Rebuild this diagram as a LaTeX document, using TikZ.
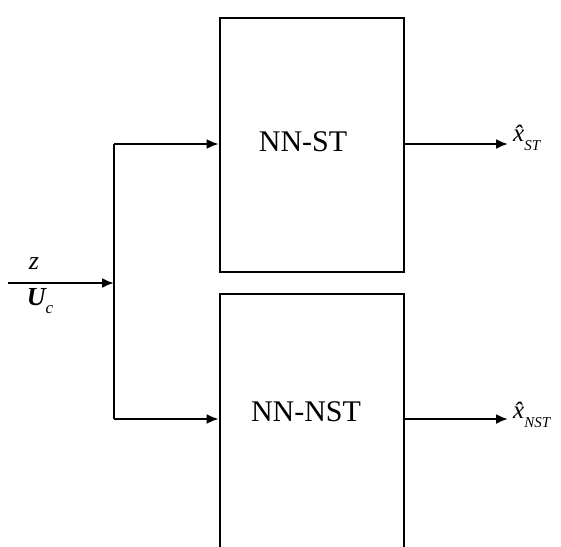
\documentclass[tikz,border=0pt]{standalone}
\usepackage{fontspec}
\setmainfont{Liberation Serif}
\usetikzlibrary{arrows.meta}
\newcommand{\subtxt}[2]{#1\raisebox{-0.35em}{\fontsize{15}{16}\selectfont\itshape #2}}
\begin{document}
\begin{tikzpicture}[x=1pt,y=-1pt,
  blk/.style={draw, line width=2.6pt, minimum width=184pt, inner sep=0pt},
  lbl/.style={font=\fontsize{30}{32}\selectfont, inner sep=0pt},
  wire/.style={line width=2.2pt},
  arr/.style={wire, -{Latex[length=12pt,width=10pt]}},
  inlbl/.style={font=\fontsize{26}{28}\selectfont\itshape, inner sep=0pt},
  outlbl/.style={font=\fontsize{25}{27}\selectfont\itshape, inner sep=0pt, anchor=west}]
\useasboundingbox (0,0) rectangle (561,546);
\clip (0,0) rectangle (561,546);
\node[blk, minimum height=254pt] (box1) at (312,145) {};
\node[blk, minimum height=266pt] (box2) at (312,427) {};
\node[lbl] (t1) at (303,142) {NN-ST};
\node[lbl] (t2) at (306,412) {NN-NST};
\coordinate (in) at (8,283);
\coordinate (j) at (114,283);
\coordinate (jt) at (114,144);
\coordinate (jb) at (114,419);
\coordinate (b1in) at (box1.west |- jt);
\coordinate (b2in) at (box2.west |- jb);
\coordinate (b1out) at (box1.east |- jt);
\coordinate (b2out) at (box2.east |- jb);
\coordinate (o1) at (508,144);
\coordinate (o2) at (508,419);
\draw[arr] (in) -- (j);
\draw[wire] (jt) -- (jb);
\draw[arr] (jt) -- (b1in);
\draw[arr] (jb) -- (b2in);
\draw[arr] (b1out) -- (o1);
\draw[arr] (b2out) -- (o2);
\node[inlbl] (z) at (34,264) {z};
\node[inlbl] (u) at (40,301) {\textbf{U}\raisebox{-0.3em}{\fontsize{17}{18}\selectfont c}};
\node[outlbl] (x1) at (513,138) {\subtxt{\^{x}}{ST}};
\node[outlbl] (x2) at (513,415) {\subtxt{\^{x}}{NST}};
\end{tikzpicture}
\end{document}
